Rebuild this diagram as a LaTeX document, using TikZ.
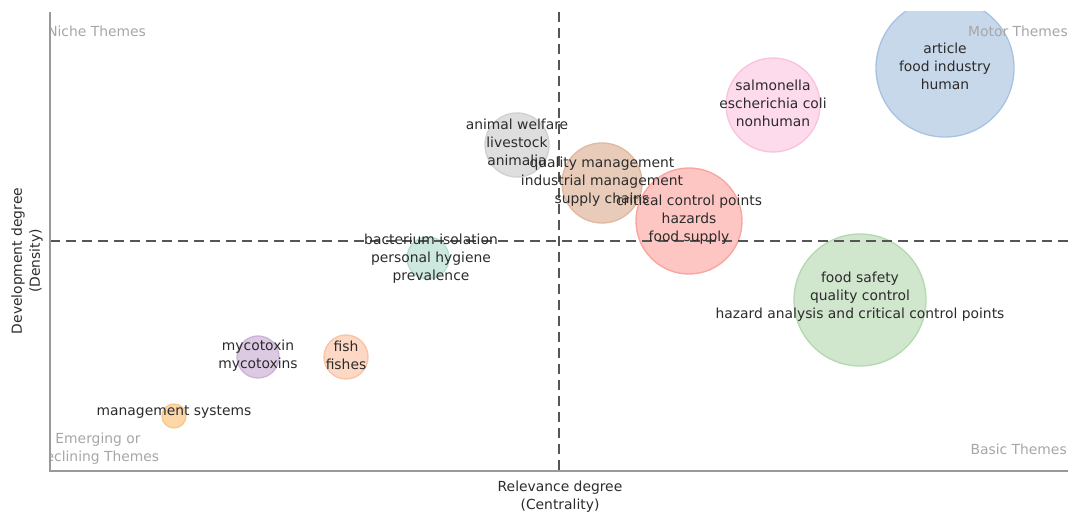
\documentclass[tikz,border=0pt]{standalone}
\usepackage{fontspec}
\setmainfont{DejaVu Sans}
\definecolor{txt}{HTML}{2B2B2B}
\definecolor{quad}{HTML}{A6A6A6}
\definecolor{axis}{HTML}{999999}
\definecolor{dash}{HTML}{555555}
\definecolor{bluef}{HTML}{C8D8EB}\definecolor{blued}{HTML}{A8C3E2}
\definecolor{pinkf}{HTML}{FDDAEC}\definecolor{pinkd}{HTML}{F9C2DF}
\definecolor{grayf}{HTML}{DEDEDE}\definecolor{grayd}{HTML}{D0D0D0}
\definecolor{tanf}{HTML}{E8CCB9}\definecolor{tand}{HTML}{E0B9A0}
\definecolor{redf}{HTML}{FDC6C3}\definecolor{redd}{HTML}{F9A4A0}
\definecolor{tealf}{HTML}{CDE9DF}\definecolor{teald}{HTML}{B5DECF}
\definecolor{greenf}{HTML}{D0E6CD}\definecolor{greend}{HTML}{B5D9B1}
\definecolor{purplef}{HTML}{DCCAE3}\definecolor{purpled}{HTML}{CDB3D7}
\definecolor{orangef}{HTML}{FDD8C4}\definecolor{oranged}{HTML}{F9C3A6}
\definecolor{yellowf}{HTML}{FDD7A8}\definecolor{yellowd}{HTML}{F9C78A}
\begin{document}
\begin{tikzpicture}[x=0.75pt,y=-0.75pt,
  bubble/.style n args={3}{circle, inner sep=0pt, fill=#1, draw=#2, line width=1pt, minimum size={2*#3*0.75pt}},
  lbl/.style={text=txt, align=center, font=\fontsize{10.4}{13.5}\selectfont, inner sep=0pt, yshift=1.3pt},
  quadlbl/.style={text=quad, font=\fontsize{10.4}{13.5}\selectfont, inner sep=0pt},
  axtitle/.style={text=txt, align=center, font=\fontsize{10.4}{13.5}\selectfont, inner sep=0pt},
  axisline/.style={draw=axis, line width=1pt},
  quadline/.style={draw=dash, line width=1.5pt, dash pattern=on 7.5pt off 4.5pt}]
\useasboundingbox (0,0) rectangle (1073,517);
\coordinate (tl) at (50,12);
\coordinate (bl) at (50,471);
\coordinate (br) at (1068,471);
\coordinate (vt) at (559,12);
\coordinate (vb) at (559,471);
\coordinate (hl) at (50,241);
\coordinate (hr) at (1068,241);
\begin{scope}
\clip (50,12) rectangle (1068,471);
\node[bubble={bluef}{blued}{69}] (b1) at (945,68) {};
\node[bubble={pinkf}{pinkd}{47}] (b2) at (773,105) {};
\node[bubble={grayf}{grayd}{32}] (b3) at (517,145) {};
\node[bubble={tanf}{tand}{40}] (b4) at (602,183) {};
\node[bubble={redf}{redd}{53}] (b5) at (689,221) {};
\node[bubble={tealf}{teald}{21}] (b6) at (428,258) {};
\node[bubble={greenf}{greend}{66}] (b7) at (860,300) {};
\node[bubble={purplef}{purpled}{21}] (b8) at (258,357) {};
\node[bubble={orangef}{oranged}{22}] (b9) at (346,357) {};
\node[bubble={yellowf}{yellowd}{12}] (b10) at (174,416) {};
\draw[quadline] (vt) -- (vb);
\draw[quadline] (hl) -- (hr);
\node[quadlbl, anchor=west] (niche) at (47,31) {Niche Themes};
\node[quadlbl, anchor=east] (motor) at (1068,31) {Motor Themes};
\node[quadlbl, anchor=east] (basic) at (1067,449) {Basic Themes};
\node[quadlbl, align=center, anchor=center] (emerg) at (98,449) {Emerging or\\declining Themes};
\node[lbl] (t1) at (b1) {article\\food industry\\human};
\node[lbl] (t2) at (b2) {salmonella\\escherichia coli\\nonhuman};
\node[lbl] (t3) at (517,144) {animal welfare\\livestock\\animalia};
\node[lbl] (t4) at (b4) {quality management\\industrial management\\supply chains};
\node[lbl] (t5) at (b5) {critical control points\\hazards\\food supply};
\node[lbl] (t6) at (431,260) {bacterium isolation\\personal hygiene\\prevalence};
\node[lbl] (t7) at (860,298) {food safety\\quality control\\hazard analysis and critical control points};
\node[lbl] (t8) at (b8) {mycotoxin\\mycotoxins};
\node[lbl] (t9) at (b9) {fish\\fishes};
\node[lbl] (t10) at (174,414) {management systems};
\end{scope}
\draw[axisline] (tl) -- (bl) -- (br);
\node[axtitle] (xt) at (560,497) {Relevance degree\\(Centrality)};
\node[axtitle, rotate=90] (yt) at (27,261) {Development degree\\(Density)};
\end{tikzpicture}
\end{document}
